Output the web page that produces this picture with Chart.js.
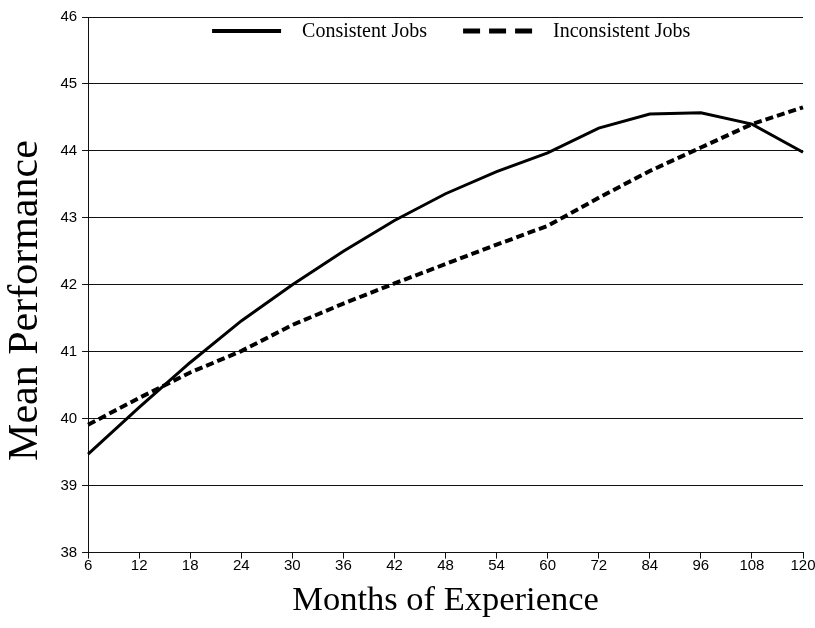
<!DOCTYPE html>
<html>
<head>
<meta charset="utf-8">
<script src="https://cdn.jsdelivr.net/npm/chart.js@4/dist/chart.umd.min.js"></script>
<style>
  html, body { margin: 0; padding: 0; background: #fff; }
  #wrap { width: 815px; height: 628px; }
</style>
</head>
<body>
<div id="wrap"><canvas id="perfChart" width="815" height="628"></canvas></div>
<script>
const months = ["6", "12", "18", "24", "30", "36", "42", "48", "54", "60", "72", "84", "96", "108", "120"]
const consistentJobs = [39.47, 40.17, 40.84, 41.46, 42.0, 42.5, 42.96, 43.36, 43.69, 43.97, 44.34, 44.55, 44.57, 44.40, 43.98]
const inconsistentJobs = [39.91, 40.31, 40.69, 41.01, 41.4, 41.72, 42.02, 42.31, 42.6, 42.88, 43.3, 43.7, 44.05, 44.4, 44.65]
const yTicks = [38, 39, 40, 41, 42, 43, 44, 45, 46]

const serif = "'Liberation Serif', 'Times New Roman', serif"
const sans = "'Liberation Sans', Arial, sans-serif"

// legend sits inside the plot, under the 46 line
const innerLegend = {
       id: "innerLegend",
       afterDraw(c) {
              const ctx = c.ctx
              const left = c.chartArea.left
              const y = c.chartArea.top + 14
              const spots = [124, 375]
              ctx.save()
              c.data.datasets.forEach((ds, i) => {
                     const x = left + spots[i]
                     ctx.beginPath()
                     ctx.setLineDash(ds.legendDash || [])
                     ctx.lineWidth = ds.legendWidth
                     ctx.strokeStyle = ds.borderColor
                     ctx.moveTo(x, y)
                     ctx.lineTo(x + 69, y)
                     ctx.stroke()
                     ctx.setLineDash([])
                     ctx.fillStyle = "#000"
                     ctx.font = "20px " + serif
                     ctx.textBaseline = "middle"
                     ctx.fillText(ds.label, x + 90, y + 1)
              })
              ctx.restore()
       }
}

new Chart(document.getElementById("perfChart"), {
       type: "line",
       data: {
              labels: months,
              datasets: [
                     {
                            label: "Consistent Jobs",
                            data: consistentJobs,
                            borderColor: "#000",
                            borderWidth: 3,
                            pointRadius: 0,
                            tension: 0,
                            legendWidth: 4
                     },
                     {
                            label: "Inconsistent Jobs",
                            data: inconsistentJobs,
                            borderColor: "#000",
                            borderWidth: 4,
                            borderDash: [8, 4],
                            borderCapStyle: "butt",
                            pointRadius: 0,
                            tension: 0,
                            legendWidth: 5,
                            legendDash: [17, 9]
                     }
              ]
       },
       options: {
              responsive: false,
              animation: false,
              layout: { padding: { left: 1, right: 12, top: 17, bottom: 3 } },
              plugins: {
                     legend: { display: false },
                     tooltip: { enabled: false }
              },
              scales: {
                     x: {
                            type: "category",
                            offset: false,
                            grid: { display: true, drawOnChartArea: false, drawTicks: true, tickLength: 6, color: "#111" },
                            border: { display: true, color: "#111" },
                            ticks: { color: "#000", font: { family: sans, size: 15 }, padding: -2, maxRotation: 0, autoSkip: false },
                            title: {
                                   display: true,
                                   text: "Months of Experience",
                                   color: "#000",
                                   font: { family: serif, size: 34.5 },
                                   padding: { top: 8, bottom: 3 }
                            }
                     },
                     y: {
                            min: 38,
                            max: 46,
                            afterBuildTicks: (axis) => { axis.ticks = yTicks.map(v => ({ value: v })) },
                            grid: { color: "#111", lineWidth: 1, tickLength: 6 },
                            border: { display: true, color: "#111" },
                            ticks: { color: "#000", font: { family: sans, size: 15 }, padding: 5 },
                            title: {
                                   display: true,
                                   text: "Mean Performance   ",
                                   color: "#000",
                                   font: { family: serif, size: 42 },
                                   padding: { top: 0, bottom: 4 }
                            }
                     }
              }
       },
       plugins: [innerLegend]
})
</script>
</body>
</html>
